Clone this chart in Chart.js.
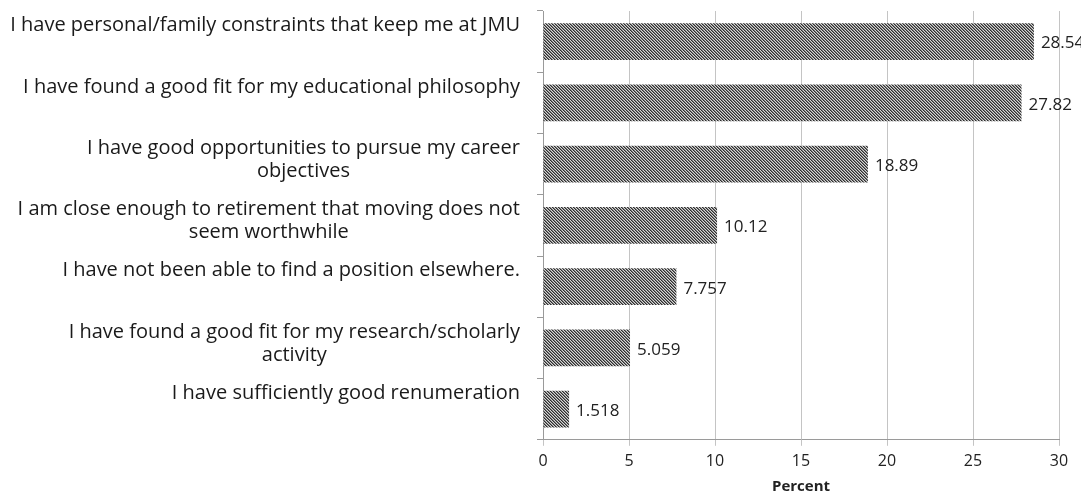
<!DOCTYPE html>
<html>
<head>
<meta charset="utf-8">
<script src="https://cdn.jsdelivr.net/npm/chart.js@4/dist/chart.umd.min.js"></script>
<style>
  html, body { margin: 0; padding: 0; background: #fff; }
  #wrap { width: 1081px; height: 494px; }
</style>
</head>
<body>
<div id="wrap"><canvas id="reasonsChart" width="1081" height="494"></canvas></div>
<script>
// Reasons for staying, percent of respondents
const reasons = [
    'I have personal/family constraints that keep me at JMU',
    'I have found a good fit for my educational philosophy',
    ['I have good opportunities to pursue my career', 'objectives'],
    ['I am close enough to retirement that moving does not', 'seem worthwhile'],
    'I have not been able to find a position elsewhere.',
    ['I have found a good fit for my research/scholarly', 'activity'],
    'I have sufficiently good renumeration'
];
const percents = [28.54, 27.82, 18.89, 10.12, 7.757, 5.059, 1.518];
const valueLabels = ['28.54', '27.82', '18.89', '10.12', '7.757', '5.059', '1.518'];
const xTicks = [0, 5, 10, 15, 20, 25, 30];

const LABEL_FONT = '20px "Open Sans", sans-serif';

// hatched fill like the old Excel pattern (3px diagonal)
function makeHatch() {
    const c = document.createElement('canvas');
    c.width = 3; c.height = 3;
    const g = c.getContext('2d');
    g.fillStyle = '#d6d6d6';
    g.fillRect(0, 0, 3, 3);
    for (let i = 0; i < 3; i++) {
        g.fillStyle = '#2e2e2e';
        g.fillRect(i, i, 1, 1);
        g.fillStyle = '#7c7c7c';
        g.fillRect((i + 1) % 3, i, 1, 1);
    }
    return g.createPattern(c, 'repeat');
}

// category labels: block right-aligned to the axis, lines centred inside it,
// first line sitting a bit above the bar centre (as Excel lays them out)
const categoryText = {
    id: 'categoryText',
    afterDraw(chart) {
        const ctx = chart.ctx;
        const yScale = chart.scales.y;
        const right = yScale.right - 23;
        ctx.save();
        ctx.font = LABEL_FONT;
        ctx.fillStyle = '#1a1a1a';
        ctx.textAlign = 'center';
        ctx.textBaseline = 'middle';
        reasons.forEach((lab, i) => {
            const lines = Array.isArray(lab) ? lab : [lab];
            const w = Math.max(...lines.map(l => ctx.measureText(l).width));
            const cx = right - w / 2;
            const yc = yScale.getPixelForTick(i) - 16;
            lines.forEach((l, j) => ctx.fillText(l, cx, yc + j * 23));
        });
        ctx.restore();
    }
};

const valueText = {
    id: 'valueText',
    afterDatasetsDraw(chart) {
        const ctx = chart.ctx;
        const meta = chart.getDatasetMeta(0);
        ctx.save();
        ctx.font = '17px "Open Sans", sans-serif';
        ctx.fillStyle = '#222';
        ctx.textAlign = 'left';
        ctx.textBaseline = 'middle';
        meta.data.forEach((bar, i) => {
            ctx.fillText(valueLabels[i], bar.x + 7, bar.y + 2);
        });
        ctx.restore();
    }
};

new Chart(document.getElementById('reasonsChart'), {
    type: 'bar',
    data: {
        labels: reasons,
        datasets: [{
            data: percents,
            backgroundColor: makeHatch(),
            borderWidth: 0,
            barPercentage: 0.6,
            categoryPercentage: 1.0
        }]
    },
    options: {
        indexAxis: 'y',
        responsive: false,
        animation: false,
        layout: { padding: { left: 0, right: 22, top: 11, bottom: 0 } },
        plugins: {
            legend: { display: false },
            tooltip: { enabled: false }
        },
        scales: {
            x: {
                min: 0,
                max: 30,
                afterBuildTicks(axis) { axis.ticks = xTicks.map(v => ({ value: v })); },
                grid: { color: '#c4c4c4', tickLength: 6 },
                border: { color: '#9a9a9a' },
                ticks: { color: '#222', font: { family: 'Open Sans', size: 16 }, padding: 6, maxRotation: 0 },
                title: { display: true, text: 'Percent', color: '#222', font: { family: 'Open Sans', size: 15, weight: 'bold', lineHeight: 1.0 }, padding: { top: 2, bottom: 0 } }
            },
            y: {
                afterFit(scale) { scale.width = 543; },
                grid: { drawOnChartArea: false, tickLength: 6, color: '#9a9a9a', offset: true },
                border: { color: '#9a9a9a' },
                ticks: { display: false, autoSkip: false }
            }
        }
    },
    plugins: [valueText, categoryText]
});
</script>
</body>
</html>
